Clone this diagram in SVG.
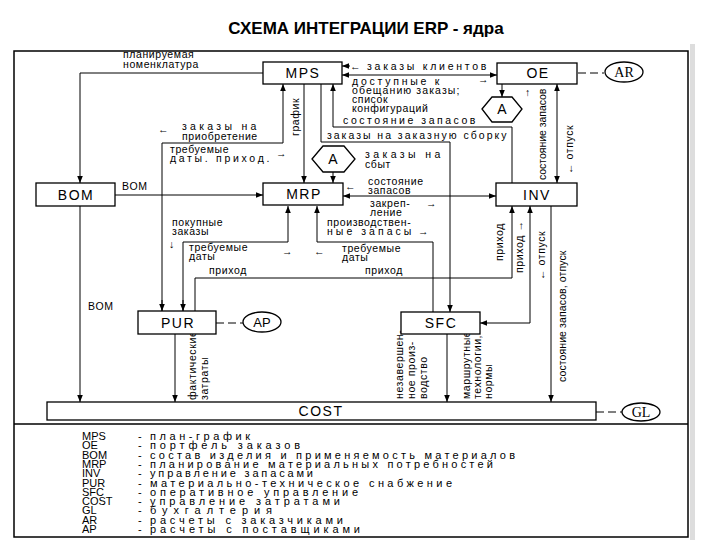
<svg xmlns="http://www.w3.org/2000/svg" width="720" height="540" viewBox="0 0 720 540">
<style>
text{font-family:"Liberation Sans",Arial,sans-serif;fill:#000}
.t{font-size:10.5px;letter-spacing:0.6px}
.n{font-size:14px;text-anchor:middle;letter-spacing:1.5px}
.box{fill:#fff;stroke:#000;stroke-width:1.3}
.c{fill:none;stroke:#000;stroke-width:1}
.d{fill:none;stroke:#000;stroke-width:1;stroke-dasharray:8 4}
.lg{font-size:11px}
</style>
<defs>
<marker id="a" viewBox="0 0 10 10" refX="10" refY="5" markerWidth="7" markerHeight="7" orient="auto-start-reverse" markerUnits="userSpaceOnUse"><path d="M0,1 L10,5 L0,9 z" fill="#000"/></marker>
</defs>
<rect width="720" height="540" fill="#fff"/>
<rect x="690" y="44" width="5" height="496" fill="#ddd"/>
<text x="366" y="34" style="font-size:17px;font-weight:bold" text-anchor="middle">СХЕМА ИНТЕГРАЦИИ ERP - ядра</text>
<rect x="14" y="51" width="674" height="486" fill="none" stroke="#000" stroke-width="1.5"/>
<line x1="14" y1="424" x2="688" y2="424" stroke="#000" stroke-width="1.5"/>

<g id="connectors">
<path class="c" d="M263,73 H80 V183" marker-end="url(#a)"/>
<path class="c" d="M115,195 H263" marker-end="url(#a)"/>
<path class="c" d="M80,206 V402" marker-end="url(#a)"/>
<path class="c" d="M304,84 V183" marker-end="url(#a)"/>
<path class="c" d="M162,311 V143 H283 V84" marker-end="url(#a)"/>
<path class="c" d="M162,300 V311" marker-end="url(#a)"/>
<path class="c" d="M512,183 V127 H333 V84" marker-end="url(#a)"/>
<path class="c" d="M321,84 V142 H450 V312" marker-end="url(#a)"/>
<path class="c" d="M333,172 V183" marker-end="url(#a)"/>
<path class="c" d="M502,84 V97" marker-end="url(#a)"/>
<path class="c" d="M350,66 H342" marker-end="url(#a)"/>
<path class="c" d="M342,75 H497" marker-start="url(#a)" marker-end="url(#a)"/>
<path class="c" d="M557,84 V183" marker-start="url(#a)" marker-end="url(#a)"/>
<path class="c" d="M343,196 H496" marker-start="url(#a)" marker-end="url(#a)"/>
<path class="c" d="M183,311 V242 H288 V206" marker-end="url(#a)"/>
<path class="c" d="M183,300 V311" marker-end="url(#a)"/>
<path class="c" d="M433,312 V242 H317 V206" marker-end="url(#a)"/>
<path class="c" d="M195,311 V278 H512 V206" marker-end="url(#a)"/>
<path class="c" d="M480,323 H530 V206" marker-start="url(#a)" marker-end="url(#a)"/>
<path class="c" d="M175,334 V402" marker-end="url(#a)"/>
<path class="c" d="M447,334 V402" marker-end="url(#a)"/>
<path class="c" d="M551,206 V402" marker-end="url(#a)"/>
<path class="d" d="M216,323 H243"/>
<path class="d" d="M596,412 H622"/>
<path class="d" d="M578,73 H604"/>
</g>

<g id="labels" class="t">
<text x="123" y="58">планируемая</text>
<text x="123" y="68">номенклатура</text>
<text x="122" y="190">BOM</text>
<text x="88" y="310">BOM</text>
<text x="158" y="133">←</text>
<text x="182" y="130" textLength="75" lengthAdjust="spacing">заказы на</text>
<text x="182" y="140">приобретение</text>
<text x="170" y="153">требуемые</text>
<text x="170" y="162" textLength="100" lengthAdjust="spacing">даты. приход.</text>
<text x="276" y="157">→</text>
<text transform="translate(299,136) rotate(-90)">график</text>
<text x="350" y="70">←</text>
<text x="367" y="70" textLength="120" lengthAdjust="spacing">заказы клиентов</text>
<text x="352" y="85" textLength="88" lengthAdjust="spacing">доступные к</text>
<text x="478" y="83">→</text>
<text x="352" y="94" textLength="108" lengthAdjust="spacing">обещанию заказы;</text>
<text x="352" y="103">список</text>
<text x="352" y="112">конфигураций</text>
<text x="343" y="124" textLength="133" lengthAdjust="spacing">состояние запасов</text>
<text x="327" y="139" textLength="180" lengthAdjust="spacing">заказы на заказную сборку</text>
<text x="365" y="158" textLength="76" lengthAdjust="spacing">заказы на</text>
<text x="365" y="168">сбыт</text>
<text x="345" y="190">←</text>
<text x="368" y="185">состояние</text>
<text x="368" y="194">запасов</text>
<text x="370" y="207">закреп-</text>
<text x="426" y="207">→</text>
<text x="370" y="216">ление</text>
<text x="525" y="96">↑</text>
<text transform="translate(546,180) rotate(-90)" textLength="92" lengthAdjust="spacing">состояние запасов</text>
<text transform="translate(573,174) rotate(-90)">←  отпуск</text>
<text x="172" y="226">покупные</text>
<text x="172" y="235">заказы</text>
<text x="169" y="248">↓</text>
<text x="189" y="251">требуемые</text>
<text x="189" y="260">даты</text>
<text x="282" y="255">→</text>
<text x="314" y="255">←</text>
<text x="327" y="226">производствен-</text>
<text x="327" y="235" textLength="85" lengthAdjust="spacing">ные запасы</text>
<text x="418" y="235">→</text>
<text x="342" y="252">требуемые</text>
<text x="342" y="261">даты</text>
<text x="209" y="274">приход</text>
<text x="365" y="274">приход</text>
<text transform="translate(503,261) rotate(-90)">приход</text>
<text transform="translate(523,273) rotate(-90)">приход    →</text>
<text transform="translate(545,280) rotate(-90)">←    отпуск</text>
<text transform="translate(566,382) rotate(-90)" textLength="132" lengthAdjust="spacing">состояние запасов, отпуск</text>
<text transform="translate(196,400) rotate(-90)">фактические</text>
<text transform="translate(208,400) rotate(-90)">затраты</text>
<text transform="translate(403,399) rotate(-90)">незавершен-</text>
<text transform="translate(415,399) rotate(-90)">ное   произ-</text>
<text transform="translate(427,399) rotate(-90)">водство</text>
<text transform="translate(470,399) rotate(-90)">маршрутные</text>
<text transform="translate(481,399) rotate(-90)">технологии,</text>
<text transform="translate(492,399) rotate(-90)">нормы</text>
</g>

<g id="MPS"><rect class="box" x="263" y="62" width="79" height="22"/><text class="n" x="303" y="78">MPS</text></g>
<g id="OE"><rect class="box" x="497" y="63" width="80" height="21"/><text class="n" x="538" y="78">OE</text></g>
<g id="AR"><ellipse cx="624" cy="72" rx="19" ry="10" fill="#fff" stroke="#000" stroke-width="1.3"/><text x="624" y="77" text-anchor="middle" style="font-size:14px;font-family:'Liberation Serif',serif">AR</text></g>
<g id="A2"><polygon points="482,109 492,97 512,97 522,109 512,122 492,122" class="box" stroke-width="2"/><text x="502" y="114" text-anchor="middle" style="font-size:14px">A</text></g>
<g id="A1"><polygon points="312,159 323,146 344,146 355,159 344,172 323,172" class="box" stroke-width="2"/><text x="333" y="164" text-anchor="middle" style="font-size:14px">A</text></g>
<g id="BOM"><rect class="box" x="36" y="183" width="79" height="23"/><text class="n" x="76" y="200">BOM</text></g>
<g id="MRP"><rect class="box" x="263" y="183" width="80" height="22"/><text class="n" x="304" y="199">MRP</text></g>
<g id="INV"><rect class="box" x="496" y="183" width="81" height="23"/><text class="n" x="537" y="200">INV</text></g>
<g id="PUR"><rect class="box" x="138" y="311" width="78" height="23"/><text class="n" x="178" y="328">PUR</text></g>
<g id="AP"><ellipse cx="262" cy="322" rx="19" ry="10" fill="#fff" stroke="#000" stroke-width="1.3"/><text x="262" y="327" text-anchor="middle" style="font-size:13px">AP</text></g>
<g id="SFC"><rect class="box" x="401" y="312" width="79" height="22"/><text class="n" x="441" y="328">SFC</text></g>
<g id="COST"><rect class="box" x="47" y="402" width="549" height="18"/><text class="n" x="321" y="416">COST</text></g>
<g id="GL"><ellipse cx="641" cy="412" rx="19" ry="9" fill="#fff" stroke="#000" stroke-width="1.3"/><text x="641" y="417" text-anchor="middle" style="font-size:14px;font-family:'Liberation Serif',serif">GL</text></g>

<g id="legend" class="lg">
<text x="82" y="440">MPS</text><text x="138" y="440">-</text><text x="150" y="440" textLength="100" lengthAdjust="spacing">план-график</text>
<text x="82" y="449.3">OE</text><text x="138" y="449.3">-</text><text x="150" y="449.3" textLength="150" lengthAdjust="spacing">портфель заказов</text>
<text x="82" y="458.6">BOM</text><text x="138" y="458.6">-</text><text x="150" y="458.6" textLength="365" lengthAdjust="spacing">состав изделия и применяемость материалов</text>
<text x="82" y="467.9">MRP</text><text x="138" y="467.9">-</text><text x="150" y="467.9" textLength="343" lengthAdjust="spacing">планирование материальных потребностей</text>
<text x="82" y="477.2">INV</text><text x="138" y="477.2">-</text><text x="150" y="477.2" textLength="163" lengthAdjust="spacing">управление запасами</text>
<text x="82" y="486.5">PUR</text><text x="138" y="486.5">-</text><text x="150" y="486.5" textLength="302" lengthAdjust="spacing">материально-техническое снабжение</text>
<text x="82" y="495.8">SFC</text><text x="138" y="495.8">-</text><text x="150" y="495.8" textLength="208" lengthAdjust="spacing">оперативное управление</text>
<text x="82" y="505.1">COST</text><text x="138" y="505.1">-</text><text x="150" y="505.1" textLength="190" lengthAdjust="spacing">управление затратами</text>
<text x="82" y="514.4">GL</text><text x="138" y="514.4">-</text><text x="150" y="514.4" textLength="122" lengthAdjust="spacing">бухгалтерия</text>
<text x="82" y="523.7">AR</text><text x="138" y="523.7">-</text><text x="150" y="523.7" textLength="193" lengthAdjust="spacing">расчеты с заказчиками</text>
<text x="82" y="533">AP</text><text x="138" y="533">-</text><text x="150" y="533" textLength="210" lengthAdjust="spacing">расчеты с поставщиками</text>
</g>
</svg>
